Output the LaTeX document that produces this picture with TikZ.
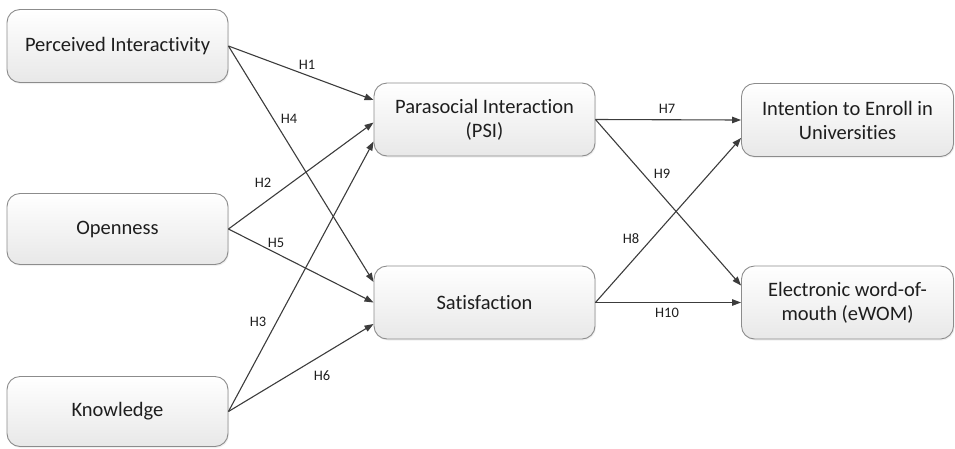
\documentclass[tikz,border=0pt]{standalone}
\usepackage{fontspec}
\setmainfont{Carlito}[Ligatures={NoCommon}]
\usetikzlibrary{arrows.meta,shadows}
\definecolor{boxline}{HTML}{8C8C8C}
\definecolor{arrowc}{HTML}{3C3C3C}
\definecolor{txt}{HTML}{1E1E1E}
\definecolor{boxbot}{HTML}{E8E8E8}
\tikzset{
  construct/.style={draw=boxline, line width=0.9pt, rounded corners=13pt,
    top color=white, bottom color=boxbot, text=txt,
    font=\fontsize{20.5}{24}\selectfont, align=center, inner sep=0pt,
    drop shadow={opacity=0.12, shadow xshift=1pt, shadow yshift=-1.5pt}},
  path/.style={draw=arrowc, line width=1.1pt, -{Triangle[length=9pt,width=6.5pt]}},
  hyp/.style={text=txt, font=\fontsize{14.5}{16}\selectfont, inner sep=0pt}
}
\begin{document}
\begin{tikzpicture}[x=1pt,y=-1pt]
\useasboundingbox (0,0) rectangle (955,448);
% constructs
\node[construct, minimum width=221pt, minimum height=73pt] (pi) at (117.5,46) {Perceived Interactivity};
\node[construct, minimum width=221pt, minimum height=71pt] (op) at (117.5,229) {Openness};
\node[construct, minimum width=221pt, minimum height=70pt] (kn) at (117.5,411.5) {Knowledge};
\node[construct, minimum width=221pt, minimum height=73pt] (psi) at (484.5,119.5) {Parasocial Interaction\\(PSI)};
\node[construct, minimum width=221pt, minimum height=73pt] (sat) at (484.5,302.5) {Satisfaction};
\node[construct, minimum width=212pt, minimum height=73pt] (ie) at (847.5,120) {Intention to Enroll in\\Universities};
\node[construct, minimum width=212pt, minimum height=73pt] (ew) at (847.5,302.5) {Electronic word-of-\\mouth (eWOM)};
% paths
\draw[path] (pi.east) -- ([yshift=19.5pt]psi.west);
\draw[path] (pi.east) -- ([yshift=20.5pt]sat.west);
\draw[path] (op.east) -- ([yshift=-3pt]psi.west);
\draw[path] (op.east) -- ([yshift=0pt]sat.west);
\draw[path] (kn.east) -- ([yshift=-22pt]psi.west);
\draw[path] (kn.east) -- ([yshift=-21.5pt]sat.west);
\draw[path] (psi.east) -- (ie.west);
\draw[path] (psi.east) -- ([yshift=17pt]ew.west);
\draw[path] (sat.east) -- ([yshift=-18pt]ie.west);
\draw[path] (sat.east) -- (ew.west);
% labels
\node[hyp] (h1) at (307,65) {H1};
\node[hyp] (h4) at (289,119) {H4};
\node[hyp] (h2) at (263,183) {H2};
\node[hyp] (h5) at (276,243) {H5};
\node[hyp] (h3) at (258,322) {H3};
\node[hyp] (h6) at (322,376) {H6};
\node[hyp] (h7) at (667,109) {H7};
\node[hyp] (h9) at (662,174) {H9};
\node[hyp] (h8) at (631,239) {H8};
\node[hyp] (h10) at (667,313) {H10};
\end{tikzpicture}
\end{document}
